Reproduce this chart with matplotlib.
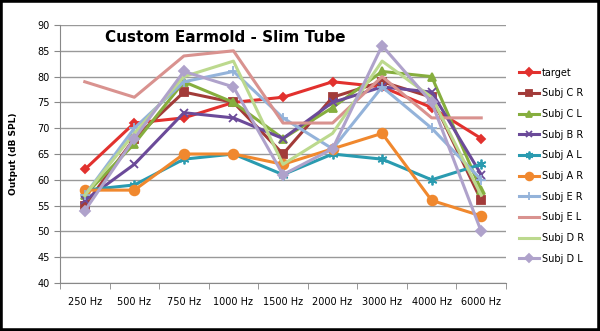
import numpy as np
import matplotlib.pyplot as plt
from matplotlib.patches import Rectangle

freqs = ['250 Hz', '500 Hz', '750 Hz', '1000 Hz', '1500 Hz', '2000 Hz', '3000 Hz', '4000 Hz', '6000 Hz']

target = [62, 71, 72, 75, 76, 79, 78, 74, 68]
subj_c_r = [55, 68, 77, 75, 65, 76, 79, 76, 56]
subj_c_l = [57, 67, 79, 75, 68, 74, 81, 80, 58]
subj_b_r = [56, 63, 73, 72, 68, 75, 78, 77, 61]
subj_a_l = [58, 59, 64, 65, 61, 65, 64, 60, 63]
subj_a_r = [58, 58, 65, 65, 63, 66, 69, 56, 53]
subj_e_r = [57, 70, 79, 81, 72, 66, 78, 70, 60]
subj_e_l = [79, 76, 84, 85, 71, 71, 80, 72, 72]
subj_d_r = [57, 69, 80, 83, 63, 69, 83, 76, 57]
subj_d_l = [54, 68, 81, 78, 61, 66, 86, 75, 50]

series = [
    ('target', target, '#E2312E', 'D', 4.5),
    ('Subj C R', subj_c_r, '#A23B39', 's', 6),
    ('Subj C L', subj_c_l, '#86AE3E', '^', 6),
    ('Subj B R', subj_b_r, '#6B4A99', 'x', 6),
    ('Subj A L', subj_a_l, '#2A9BB0', (6, 2, 0), 7),
    ('Subj A R', subj_a_r, '#F0882E', 'o', 7),
    ('Subj E R', subj_e_r, '#94B3DA', '+', 7),
    ('Subj E L', subj_e_l, '#D9928F', None, 0),
    ('Subj D R', subj_d_r, '#BCD98E', None, 0),
    ('Subj D L', subj_d_l, '#AFA2CB', 'D', 5),
]

fig = plt.figure(figsize=(6, 3.31), dpi=100)
ax = fig.add_axes([60/600, 48/331, 446/600, 258/331])
x = np.arange(len(freqs))

for name, vals, color, marker, ms in series:
    ax.plot(x, vals, color=color, lw=2.2, marker=marker, ms=ms,
            mew=1.3, label=name)

ax.set_xlim(-0.5, len(freqs) - 0.5)
ax.set_ylim(40, 90)
ax.set_yticks(np.arange(40, 91, 5))
ax.set_xticks(x)
ax.set_xticklabels(freqs, fontsize=7)
ax.set_xticks(np.arange(-0.5, len(freqs), 1), minor=True)
ax.tick_params(axis='x', which='major', length=0, pad=10)
ax.tick_params(axis='x', which='minor', length=4, color='#888888')
ax.tick_params(axis='y', labelsize=7, length=4, color='#888888')
ax.grid(axis='y', color='#999999', lw=1)
ax.set_axisbelow(True)
for s in ['top', 'right']:
    ax.spines[s].set_visible(False)
for s in ['left', 'bottom']:
    ax.spines[s].set_color('#888888')
ax.set_ylabel('Output (dB SPL)', fontsize=6.5, fontweight='bold')
ax.yaxis.set_label_coords(-0.095, 0.5)

ax.text(0.1, 0.95, 'Custom Earmold - Slim Tube', transform=ax.transAxes,
        fontsize=11, fontweight='bold', va='center', ha='left')

leg = ax.legend(loc='upper left', bbox_to_anchor=(1.03, 0.835), frameon=False,
                fontsize=7, handlelength=2.0, handletextpad=0.3,
                labelspacing=1.1, borderpad=0, borderaxespad=0,
                markerscale=0.8)

fig.patches.append(Rectangle((0, 0), 1, 1, transform=fig.transFigure,
                             fill=False, ec='black', lw=4))

fig.savefig('out.png', dpi=100)
